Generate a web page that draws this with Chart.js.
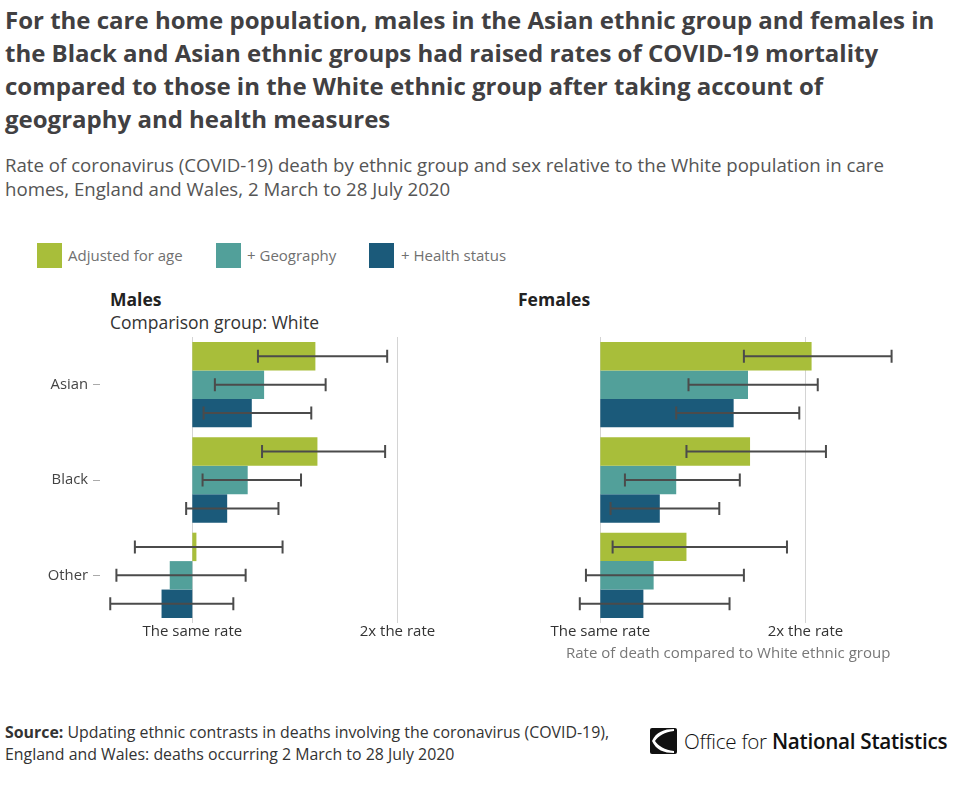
<!DOCTYPE html>
<html>
<head>
<meta charset="utf-8">
<script src="https://cdn.jsdelivr.net/npm/chart.js@4.4.1/dist/chart.umd.min.js"></script>
<style>
  html, body { margin: 0; padding: 0; background: #fff; }
  body { width: 960px; height: 788px; position: relative; overflow: hidden; font-family: "Open Sans", sans-serif; }
  .abs { position: absolute; white-space: nowrap; }
  #title { left: 5px; top: 3px; font-size: 24px; font-weight: 700; color: #414042; line-height: 33px; }
  #subtitle { left: 5px; top: 153px; font-size: 18.65px; color: #555; line-height: 24px; }
  .sw { position: absolute; width: 25px; height: 25px; top: 243px; }
  .lg { top: 245px; font-size: 15px; color: #707070; line-height: 20px; }
  .panel { font-size: 17.5px; line-height: 22px; }
  #axisTitle { left: 566px; top: 642px; font-size: 15px; color: #777; line-height: 20px; }
  #source { left: 5px; top: 721px; font-size: 15.9px; color: #333; line-height: 22px; }
  #ons { left: 684px; top: 727px; font-size: 20.7px; color: #111; line-height: 28px; letter-spacing: -0.3px; }
  canvas { position: absolute; }
</style>
</head>
<body>
<div id="title" class="abs">For the care home population, males in the Asian ethnic group and females in<br>the Black and Asian ethnic groups had raised rates of COVID-19 mortality<br>compared to those in the White ethnic group after taking account of<br>geography and health measures</div>
<div id="subtitle" class="abs">Rate of coronavirus (COVID-19) death by ethnic group and sex relative to the White population in care<br>homes, England and Wales, 2 March to 28 July 2020</div>

<div class="sw" style="left:37px;background:#a8be3a"></div>
<div class="abs lg" style="left:68px">Adjusted for age</div>
<div class="sw" style="left:216px;background:#52a09a"></div>
<div class="abs lg" style="left:247px">+ Geography</div>
<div class="sw" style="left:369px;background:#1b5a7a"></div>
<div class="abs lg" style="left:401px">+ Health status</div>

<div class="abs panel" style="left:110px;top:288px;font-weight:700;color:#222">Males</div>
<div class="abs panel" style="left:110px;top:311px;color:#333">Comparison group: White</div>
<div class="abs panel" style="left:518px;top:288px;font-weight:700;color:#222">Females</div>

<canvas id="males" width="510" height="315" style="left:0px;top:330px"></canvas>
<canvas id="females" width="510" height="315" style="left:408px;top:330px"></canvas>

<div id="axisTitle" class="abs">Rate of death compared to White ethnic group</div>

<div id="source" class="abs"><b>Source:</b> Updating ethnic contrasts in deaths involving the coronavirus (COVID-19),<br>England and Wales: deaths occurring 2 March to 28 July 2020</div>

<svg class="abs" style="left:650px;top:728px" width="27" height="26" viewBox="0 0 27 26">
  <rect x="0" y="0" width="27" height="26" rx="2" fill="#111"/>
  <path d="M2 13 C 6 4, 14 1, 24 1 L 24 3 C 15 4, 8 8, 5 13 C 8 18, 15 22, 24 23 L 24 25 C 14 25, 6 22, 2 13 Z" fill="#fff"/>
</svg>
<div id="ons" class="abs"><span style="font-weight:300">Office for</span> <span style="font-weight:600">National Statistics</span></div>

<script>
// ---- data ----
const categories = ['Asian', 'Black', 'Other'];
const seriesNames = ['Adjusted for age', '+ Geography', '+ Health status'];
const tickValues = [1, 2];
const tickLabels = ['The same rate', '2x the rate'];

// Males: rate ratios and 95% CI
const malesAge = [1.60, 1.61, 1.02];
const malesAgeLow = [1.32, 1.34, 0.72];
const malesAgeHigh = [1.95, 1.94, 1.44];
const malesGeo = [1.35, 1.27, 0.89];
const malesGeoLow = [1.11, 1.05, 0.63];
const malesGeoHigh = [1.65, 1.53, 1.26];
const malesHealth = [1.29, 1.17, 0.85];
const malesHealthLow = [1.055, 0.97, 0.60];
const malesHealthHigh = [1.58, 1.42, 1.20];

// Females
const femalesAge = [2.03, 1.73, 1.42];
const femalesAgeLow = [1.70, 1.42, 1.06];
const femalesAgeHigh = [2.42, 2.10, 1.91];
const femalesGeo = [1.72, 1.37, 1.26];
const femalesGeoLow = [1.43, 1.12, 0.93];
const femalesGeoHigh = [2.06, 1.68, 1.70];
const femalesHealth = [1.65, 1.29, 1.21];
const femalesHealthLow = [1.37, 1.05, 0.90];
const femalesHealthHigh = [1.97, 1.58, 1.63];

const colors = ['#a8be3a', '#52a09a', '#1b5a7a'];
const baseline = 1;

const errorBars = {
  id: 'errorBars',
  afterDatasetsDraw(chart) {
    const ctx = chart.ctx;
    const xs = chart.scales.x;
    ctx.save();
    ctx.strokeStyle = '#4b4b4b';
    ctx.lineWidth = 2;
    chart.data.datasets.forEach((ds, i) => {
      const meta = chart.getDatasetMeta(i);
      meta.data.forEach((el, j) => {
        const y = el.y;
        const x1 = xs.getPixelForValue(ds.errLow[j]);
        const x2 = xs.getPixelForValue(ds.errHigh[j]);
        const h = 6.5;
        ctx.beginPath();
        ctx.moveTo(x1, y); ctx.lineTo(x2, y);
        ctx.moveTo(x1, y - h); ctx.lineTo(x1, y + h);
        ctx.moveTo(x2, y - h); ctx.lineTo(x2, y + h);
        ctx.stroke();
      });
    });
    ctx.restore();
  }
};

function makeDatasets(vals, lows, highs) {
  return vals.map((v, i) => ({
    label: seriesNames[i],
    data: v.map(x => [baseline, x]),
    backgroundColor: colors[i],
    borderWidth: 0,
    errLow: lows[i],
    errHigh: highs[i],
    categoryPercentage: 0.895,
    barPercentage: 1.0
  }));
}

function makeChart(id, datasets, showY) {
  return new Chart(document.getElementById(id), {
    type: 'bar',
    data: { labels: categories, datasets: datasets },
    plugins: [errorBars],
    options: {
      indexAxis: 'y',
      responsive: false,
      animation: false,
      devicePixelRatio: 1,
      layout: { padding: { top: 7, right: 10, bottom: 0, left: 0 } },
      plugins: { legend: { display: false }, tooltip: { enabled: false }, title: { display: false } },
      scales: {
        x: {
          type: 'linear',
          min: 0.55,
          max: 2.5,
          afterBuildTicks: (s) => { s.ticks = tickValues.map(v => ({ value: v })); },
          afterFit: (s) => { s.height = 22; s.paddingLeft = 0; s.paddingRight = 0; },
          ticks: {
            callback: (v, idx) => tickLabels[idx],
            font: { family: 'Open Sans', size: 15 },
            color: '#333',
            padding: 0,
            maxRotation: 0,
            autoSkip: false
          },
          grid: { color: '#d4d4d4', lineWidth: 1, drawTicks: false },
          border: { display: false }
        },
        y: {
          afterFit: (s) => { s.width = 100; s.paddingTop = 0; s.paddingBottom = 0; },
          ticks: {
            display: showY,
            font: { family: 'Open Sans', size: 14.8 },
            color: '#444',
            padding: 5
          },
          grid: { display: showY, drawOnChartArea: false, drawTicks: true, tickLength: 7, tickColor: '#aaa', offset: false },
          border: { display: false }
        }
      }
    }
  });
}

makeChart('males', makeDatasets(
  [malesAge, malesGeo, malesHealth],
  [malesAgeLow, malesGeoLow, malesHealthLow],
  [malesAgeHigh, malesGeoHigh, malesHealthHigh]), true);

makeChart('females', makeDatasets(
  [femalesAge, femalesGeo, femalesHealth],
  [femalesAgeLow, femalesGeoLow, femalesHealthLow],
  [femalesAgeHigh, femalesGeoHigh, femalesHealthHigh]), false);
</script>
</body>
</html>
